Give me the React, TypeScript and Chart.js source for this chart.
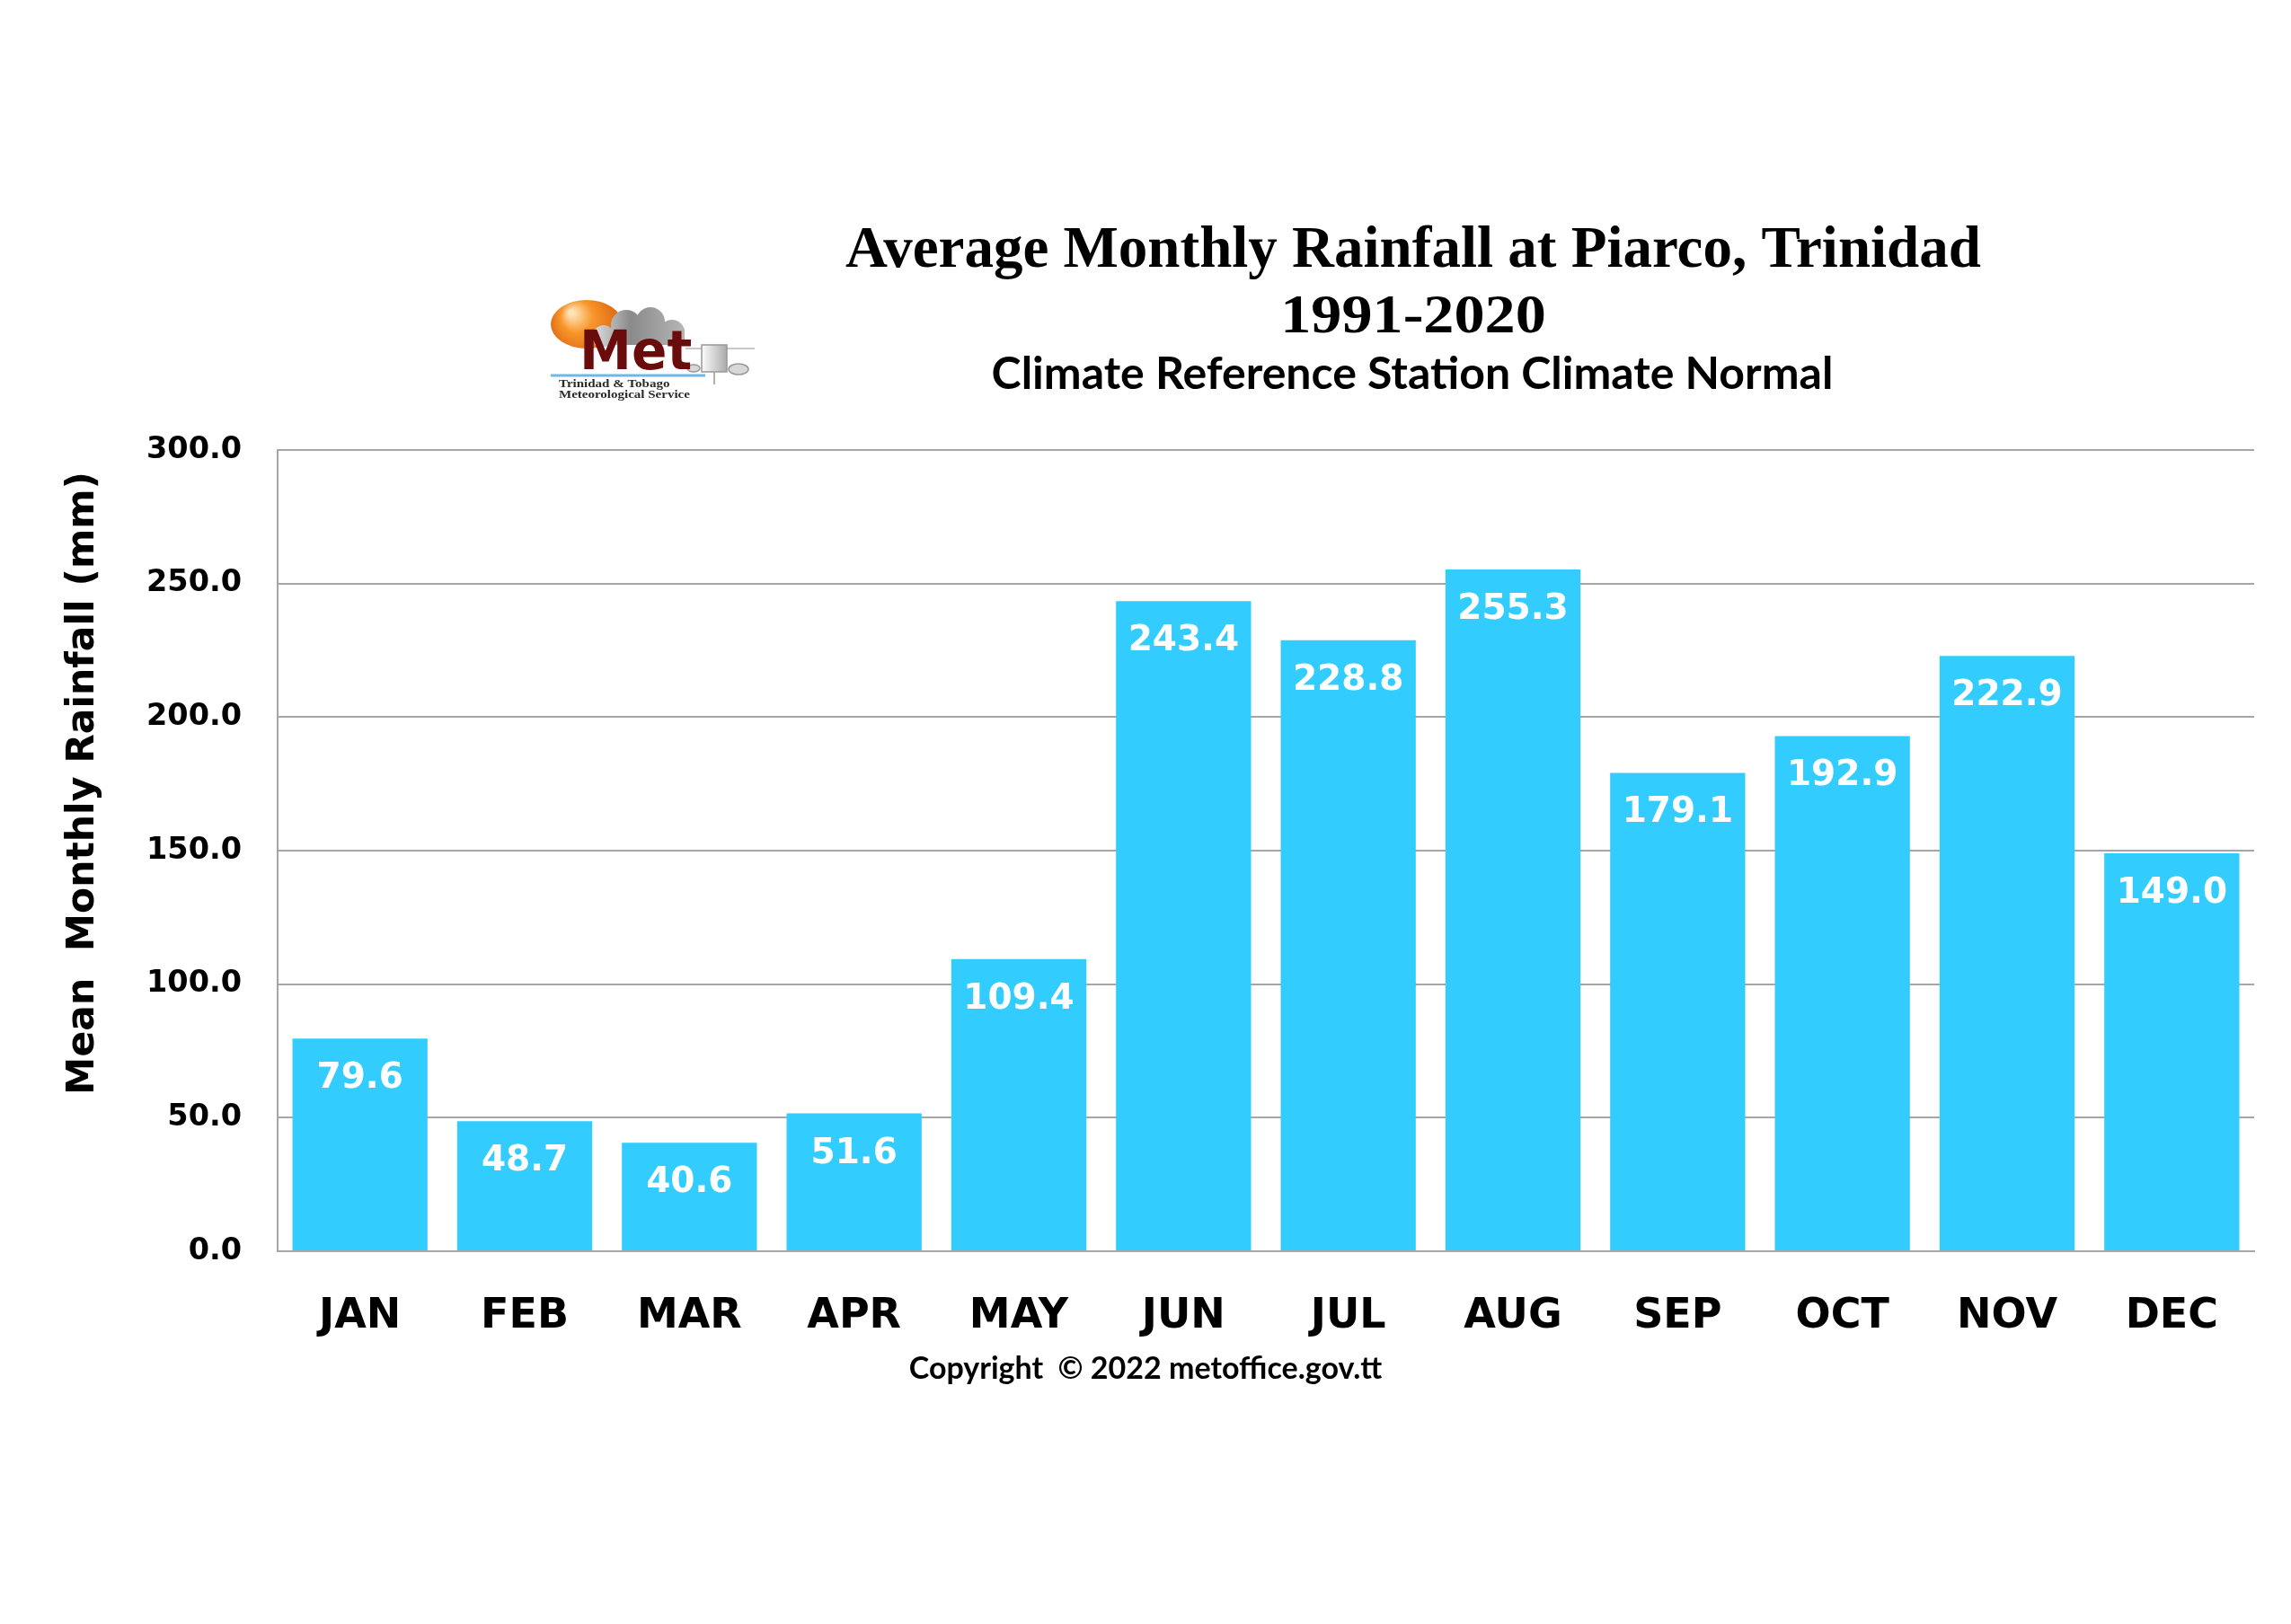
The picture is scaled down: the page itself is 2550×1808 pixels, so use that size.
import React, { useEffect, useRef } from 'react';
import { Chart, registerables } from 'chart.js';

Chart.register(...registerables);

// ---------- data ----------
const MONTHS = ['JAN', 'FEB', 'MAR', 'APR', 'MAY', 'JUN', 'JUL', 'AUG', 'SEP', 'OCT', 'NOV', 'DEC'];
const RAINFALL_MM = [79.6, 48.7, 40.6, 51.6, 109.4, 243.4, 228.8, 255.3, 179.1, 192.9, 222.9, 149.0];
const Y_MIN = 0;
const Y_MAX = 300;
const Y_STEP = 50;
const TITLE_LINES = ['Average Monthly Rainfall at Piarco, Trinidad', '1991-2020'];
const SUBTITLE = 'Climate Reference Station Climate Normal';
const Y_AXIS_TITLE = 'Mean  Monthly Rainfall (mm)';
const COPYRIGHT = 'Copyright  \u00A9 2022 metoffice.gov.tt';
const LOGO_TEXT = ['Met', 'Trinidad & Tobago', 'Meteorological Service'];

// ---------- styles ----------
const W = 2550;
const H = 1808;
const BAR_COLOR = '#33CCFF';
const GRID_COLOR = '#a6a6a6';
const SANS_BOLD = '"DejaVu Sans", "Liberation Sans", Arial, sans-serif';

function drawLogo(ctx: CanvasRenderingContext2D) {
  ctx.save();
  // orange sphere
  const g1 = ctx.createRadialGradient(636, 348, 3, 653, 361, 46);
  g1.addColorStop(0, '#FFE2B8');
  g1.addColorStop(0.35, '#F8962A');
  g1.addColorStop(1, '#D45A0C');
  ctx.fillStyle = g1;
  ctx.beginPath();
  ctx.ellipse(653, 361, 40, 27, 0, 0, Math.PI * 2);
  ctx.fill();

  // gray cloud
  const g2 = ctx.createLinearGradient(650, 0, 765, 0);
  g2.addColorStop(0, '#f4f4f4');
  g2.addColorStop(0.45, '#8a8a8a');
  g2.addColorStop(1, '#b8b8b8');
  ctx.fillStyle = g2;
  ctx.beginPath();
  ctx.arc(672, 374, 12, 0, Math.PI * 2);
  ctx.arc(697, 362, 17, 0, Math.PI * 2);
  ctx.moveTo(740, 358);
  ctx.arc(724, 358, 16, 0, Math.PI * 2);
  ctx.moveTo(762, 370);
  ctx.arc(748, 370, 14, 0, Math.PI * 2);
  ctx.fill();
  ctx.fillRect(662, 366, 100, 18);

  // instrument
  ctx.strokeStyle = '#c8c8c8';
  ctx.lineWidth = 2;
  ctx.beginPath();
  ctx.moveTo(763, 388);
  ctx.lineTo(840, 388);
  ctx.stroke();
  const g3 = ctx.createLinearGradient(780, 0, 810, 0);
  g3.addColorStop(0, '#ffffff');
  g3.addColorStop(1, '#a8a8a8');
  ctx.fillStyle = g3;
  ctx.strokeStyle = '#999';
  ctx.lineWidth = 1.5;
  ctx.beginPath();
  ctx.rect(781, 384, 28, 30);
  ctx.fill();
  ctx.stroke();
  ctx.beginPath();
  ctx.ellipse(822, 411, 11, 6, 0, 0, Math.PI * 2);
  ctx.fillStyle = '#d8d8d8';
  ctx.fill();
  ctx.stroke();
  ctx.beginPath();
  ctx.ellipse(772, 410, 7, 4, 0, 0, Math.PI * 2);
  ctx.fill();
  ctx.stroke();
  ctx.beginPath();
  ctx.moveTo(795, 414);
  ctx.lineTo(795, 428);
  ctx.stroke();

  // "Met"
  const g4 = ctx.createLinearGradient(0, 368, 0, 410);
  g4.addColorStop(0, '#6a0c0c');
  g4.addColorStop(0.55, '#2a0303');
  g4.addColorStop(1, '#000000');
  ctx.fillStyle = g4;
  ctx.font = `bold 60px ${SANS_BOLD}`;
  ctx.textAlign = 'left';
  ctx.textBaseline = 'alphabetic';
  ctx.save();
  ctx.translate(645, 411);
  ctx.scale(0.97, 1);
  ctx.fillText(LOGO_TEXT[0], 0, 0);
  ctx.restore();

  // blue line
  ctx.strokeStyle = '#6fb8e6';
  ctx.lineWidth = 3;
  ctx.beginPath();
  ctx.moveTo(613, 418);
  ctx.lineTo(785, 418);
  ctx.stroke();

  // small text
  ctx.fillStyle = '#2a2a2a';
  ctx.font = 'bold 12px "Liberation Serif", serif';
  ctx.save();
  ctx.translate(622, 431);
  ctx.scale(1.25, 1);
  ctx.fillText(LOGO_TEXT[1], 0, 0);
  ctx.restore();
  ctx.save();
  ctx.translate(622, 443);
  ctx.scale(1.25, 1);
  ctx.fillText(LOGO_TEXT[2], 0, 0);
  ctx.restore();
  ctx.restore();
}

const annotationPlugin = {
  id: 'annotations',
  afterDraw(chart: any) {
    const ctx: CanvasRenderingContext2D = chart.ctx;
    ctx.save();
    ctx.fillStyle = '#000';
    ctx.textAlign = 'center';
    ctx.textBaseline = 'alphabetic';

    // titles
    ctx.font = 'bold 65px "Liberation Serif", "Times New Roman", serif';
    ctx.fillText(TITLE_LINES[0], 1573, 297);
    ctx.save();
    ctx.translate(1573, 370);
    ctx.scale(1.1, 1);
    ctx.font = 'bold 62px "Liberation Serif", "Times New Roman", serif';
    ctx.fillText(TITLE_LINES[1], 0, 0);
    ctx.restore();
    ctx.font = 'bold 50px Lato, "Open Sans", sans-serif';
    ctx.fillText(SUBTITLE, 1572, 433);

    // copyright
    ctx.font = 'bold 34px Lato, "Open Sans", sans-serif';
    ctx.fillText(COPYRIGHT, 1275, 1535);

    // y axis title
    ctx.save();
    ctx.translate(104, 872);
    ctx.rotate(-Math.PI / 2);
    ctx.font = `bold 42.5px ${SANS_BOLD}`;
    ctx.fillText(Y_AXIS_TITLE, 0, 0);
    ctx.restore();

    drawLogo(ctx);
    ctx.restore();
  },
};

const valueLabelPlugin = {
  id: 'valueLabels',
  afterDatasetsDraw(chart: any) {
    const ctx: CanvasRenderingContext2D = chart.ctx;
    const meta = chart.getDatasetMeta(0);
    const values = chart.data.datasets[0].data as number[];
    ctx.save();
    ctx.fillStyle = '#ffffff';
    ctx.font = `bold 39px ${SANS_BOLD}`;
    ctx.textAlign = 'center';
    ctx.textBaseline = 'alphabetic';
    meta.data.forEach((bar: any, i: number) => {
      ctx.fillText(values[i].toFixed(1), bar.x, bar.y + 55);
    });
    ctx.restore();
  },
};

export default function App() {
  const canvasRef = useRef<HTMLCanvasElement | null>(null);

  useEffect(() => {
    const canvas = canvasRef.current;
    if (!canvas) return;
    const chart = new Chart(canvas, {
      type: 'bar',
      data: {
        labels: MONTHS,
        datasets: [
          {
            data: RAINFALL_MM,
            backgroundColor: BAR_COLOR,
            borderWidth: 0,
            barPercentage: 0.82,
            categoryPercentage: 1.0,
          },
        ],
      },
      options: {
        responsive: false,
        animation: false,
        devicePixelRatio: 1,
        layout: { padding: { top: 501, right: 41, bottom: 0, left: 0 } },
        plugins: {
          legend: { display: false },
          title: { display: false },
          tooltip: { enabled: false },
        },
        scales: {
          x: {
            grid: { display: false, drawTicks: false },
            border: { display: true, color: GRID_COLOR, width: 2 },
            ticks: {
              color: '#000',
              font: { family: SANS_BOLD, size: 46, weight: 'bold' },
              padding: 45,
              maxRotation: 0,
              autoSkip: false,
            },
            afterFit: (scale: any) => {
              scale.height = H - 1393;
            },
          },
          y: {
            min: Y_MIN,
            max: Y_MAX,
            ticks: {
              stepSize: Y_STEP,
              color: '#000',
              font: { family: SANS_BOLD, size: 33.5, weight: 'bold' },
              padding: 40,
              callback: (v: any) => Number(v).toFixed(1),
            },
            grid: { color: GRID_COLOR, lineWidth: 2, drawTicks: false },
            border: { display: true, color: GRID_COLOR, width: 2 },
            afterFit: (scale: any) => {
              scale.width = 309;
            },
          },
        },
      },
      plugins: [valueLabelPlugin, annotationPlugin],
    });

    let alive = true;
    if ((document as any).fonts && (document as any).fonts.load) {
      Promise.all([
        (document as any).fonts.load('bold 40px "DejaVu Sans"'),
        (document as any).fonts.load('bold 40px "Liberation Serif"'),
        (document as any).fonts.load('bold 40px Lato'),
      ])
        .then(() => {
          if (alive) chart.update();
        })
        .catch(() => {});
    }

    return () => {
      alive = false;
      chart.destroy();
    };
  }, []);

  return (
    <div style={{ position: 'absolute', left: 0, top: 0, width: W, height: H, background: '#fff' }}>
      <canvas ref={canvasRef} width={W} height={H} style={{ width: W, height: H, display: 'block' }} />
    </div>
  );
}
